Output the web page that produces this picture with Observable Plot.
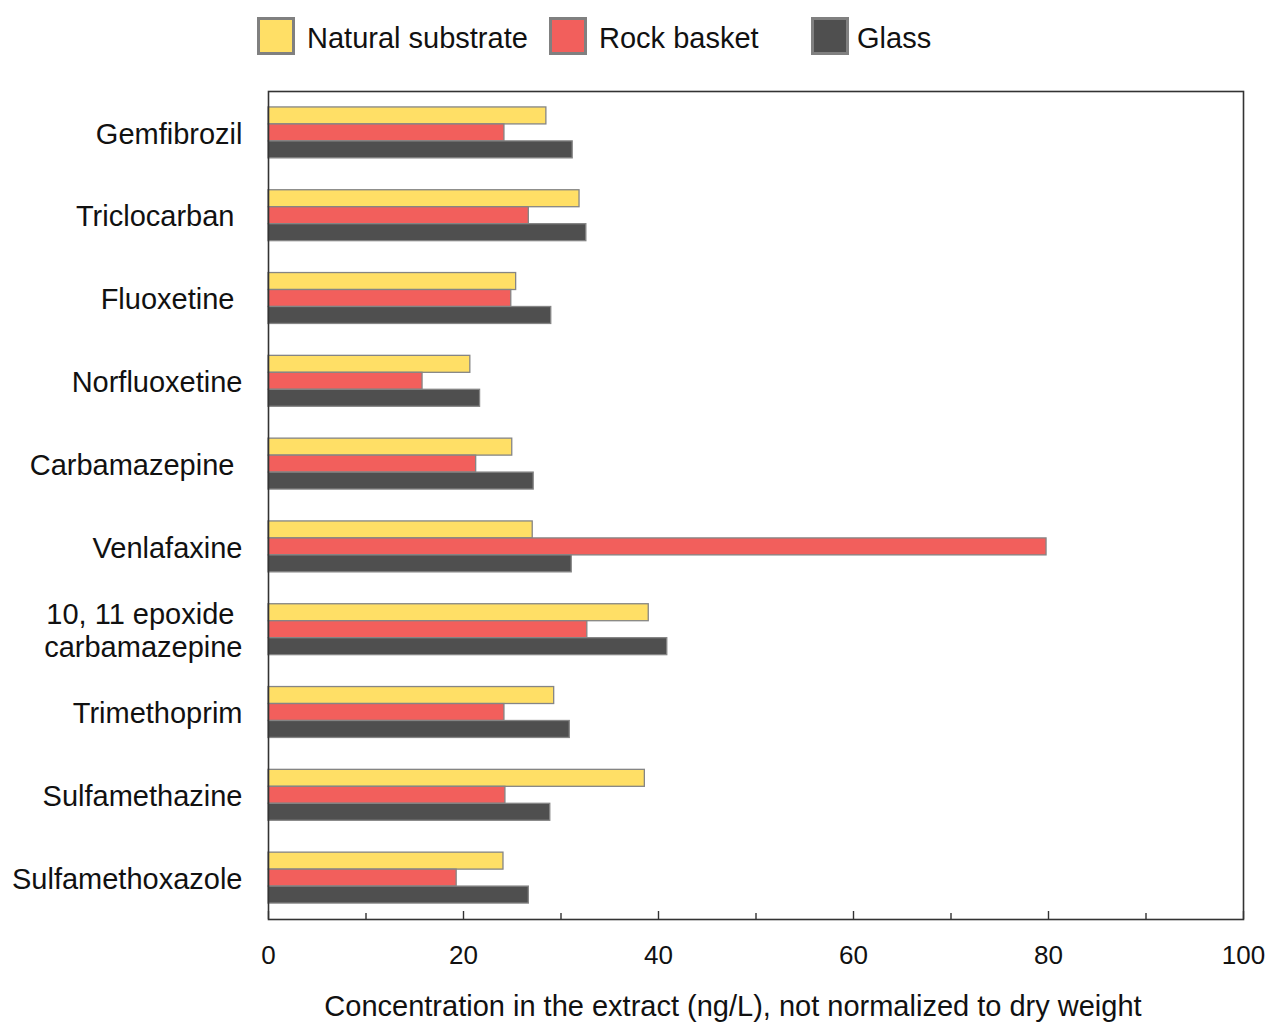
<!DOCTYPE html>
<html>
<head>
<meta charset="utf-8">
<script src="https://cdn.jsdelivr.net/npm/d3@7"></script>
<script src="https://cdn.jsdelivr.net/npm/@observablehq/plot@0.6"></script>
<style>
  html, body { margin: 0; padding: 0; background: #fff; }
  body { width: 1271px; height: 1023px; position: relative; overflow: hidden;
         font-family: "Liberation Sans", Arial, sans-serif; color: #111; }
  #legend { position: relative; height: 70px; }
  .item { position: absolute; top: 17px; display: flex; align-items: center; }
  .sw { width: 38px; height: 38px; box-sizing: border-box; border: 3px solid #808080; }
  .lab { font-size: 29px; line-height: 38px; position: relative; top: 2px; }
  #caption { position: absolute; top: 990px; left: 0; width: 1466px; text-align: center;
             font-size: 29px; white-space: nowrap; }
</style>
</head>
<body>
<div id="legend"></div>
<div id="chart"></div>
<div id="caption">Concentration in the extract (ng/L), not normalized to dry weight</div>
<script>
// Compounds, top to bottom
const categories = [
  "Gemfibrozil",
  "Triclocarban ",
  "Fluoxetine ",
  "Norfluoxetine",
  "Carbamazepine ",
  "Venlafaxine",
  "10, 11 epoxide \ncarbamazepine",
  "Trimethoprim",
  "Sulfamethazine",
  "Sulfamethoxazole"
];

// Concentration (ng/L) per substrate type
const natural = [28.5, 31.9, 25.4, 20.7, 25.0, 27.1, 39.0, 29.3, 38.6, 24.1];
const rock    = [24.2, 26.7, 24.9, 15.8, 21.3, 79.8, 32.7, 24.2, 24.3, 19.3];
const glass   = [31.2, 32.6, 29.0, 21.7, 27.2, 31.1, 40.9, 30.9, 28.9, 26.7];

const seriesNames = ["Natural substrate", "Rock basket", "Glass"];
const seriesColors = ["#FFDF66", "#F25F5C", "#4F4F4F"];
const seriesValues = [natural, rock, glass];

const majorTicks = [0, 20, 40, 60, 80, 100];
const minorTicks = [10, 30, 50, 70, 90];

// Legend
const legend = document.getElementById("legend");
const legendLeft = [257, 549, 811];
const legendGap = [12, 12, 8];
seriesNames.forEach((name, i) => {
  const item = document.createElement("div");
  item.className = "item";
  item.style.left = legendLeft[i] + "px";
  item.innerHTML = `<div class="sw" style="background:${seriesColors[i]}"></div>` +
    `<span class="lab" style="margin-left:${legendGap[i]}px">${name}</span>`;
  legend.appendChild(item);
});

// Layout
const width = 1271, height = 953;
const marginLeft = 268, marginRight = 28, marginTop = 21, marginBottom = 104;
const paddingInner = 0.385, paddingOuter = paddingInner / 2;
const step = (height - marginTop - marginBottom) / (categories.length - paddingInner + 2 * paddingOuter);
const third = step * (1 - paddingInner) / 3;

const rows = categories.flatMap((c, i) =>
  seriesNames.map((s, j) => ({category: c, series: s, value: seriesValues[j][i]}))
);

// One bar per substrate, stacked within each compound's band
const barMarks = seriesNames.map((s, j) =>
  Plot.barX(rows.filter(d => d.series === s), {
    x: "value",
    y: "category",
    fill: seriesColors[j],
    stroke: "#858585",
    strokeWidth: 1.3,
    insetTop: third * j,
    insetBottom: third * (2 - j)
  })
);

const chart = Plot.plot({
  width, height, marginLeft, marginRight, marginTop, marginBottom,
  style: {fontFamily: '"Liberation Sans", Arial, sans-serif', fontSize: "26px", color: "#111", background: "#fff"},
  x: {domain: [0, 100]},
  y: {domain: categories, paddingInner, paddingOuter, align: 0.5, round: false},
  marks: [
    ...barMarks,
    Plot.frame({stroke: "#333", strokeWidth: 1.6}),
    Plot.axisX({ticks: majorTicks, tickSize: 0, tickPadding: 26, fontSize: 26, label: null}),
    Plot.axisX({ticks: majorTicks, tickSize: -8, stroke: "#333", strokeWidth: 1.4, tickFormat: () => "", label: null}),
    Plot.axisX({ticks: minorTicks, tickSize: -6, stroke: "#333", strokeWidth: 1.4, tickFormat: () => "", label: null}),
    Plot.axisY({
      tickSize: 0, tickPadding: 26, fontSize: 29, lineHeight: 1.15, label: null,
      // keep trailing spaces visible in SVG text
      tickFormat: d => d.replace(/ $/gm, "\u00a0")
    })
  ]
});
document.getElementById("chart").appendChild(chart);
</script>
</body>
</html>
